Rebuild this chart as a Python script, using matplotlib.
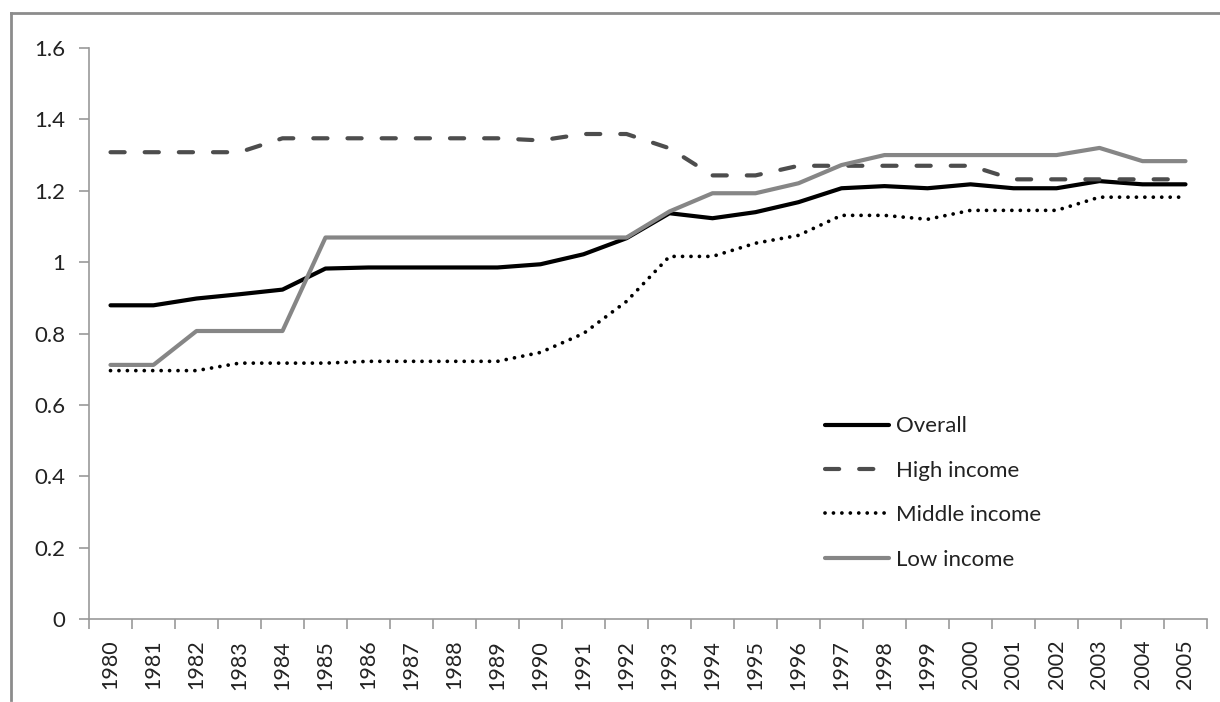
import matplotlib
matplotlib.use("Agg")
import matplotlib.pyplot as plt
from matplotlib.lines import Line2D

plt.rcParams['font.family'] = ['Lato', 'DejaVu Sans']

years = [str(y) for y in range(1980, 2006)]
overall = [0.879, 0.879, 0.898, 0.910, 0.923, 0.982, 0.985, 0.985, 0.985, 0.985,
           0.994, 1.022, 1.067, 1.137, 1.123, 1.140, 1.168, 1.207, 1.213, 1.207,
           1.218, 1.207, 1.207, 1.227, 1.218, 1.218]
high_income = [1.308, 1.308, 1.308, 1.308, 1.347, 1.347, 1.347, 1.347, 1.347, 1.347,
               1.341, 1.359, 1.359, 1.319, 1.243, 1.243, 1.270, 1.270, 1.270, 1.270,
               1.270, 1.232, 1.232, 1.232, 1.232, 1.232]
middle_income = [0.696, 0.696, 0.696, 0.717, 0.717, 0.717, 0.722, 0.722, 0.722, 0.722,
                 0.747, 0.800, 0.890, 1.016, 1.016, 1.053, 1.075, 1.131, 1.131, 1.120,
                 1.145, 1.145, 1.145, 1.182, 1.182, 1.182]
low_income = [0.712, 0.712, 0.807, 0.807, 0.807, 1.069, 1.069, 1.069, 1.069, 1.069,
              1.069, 1.069, 1.069, 1.142, 1.193, 1.193, 1.221, 1.272, 1.300, 1.300,
              1.300, 1.300, 1.300, 1.320, 1.283, 1.283]
yticks = [0, 0.2, 0.4, 0.6, 0.8, 1.0, 1.2, 1.4, 1.6]
ytick_labels = ['0', '0.2', '0.4', '0.6', '0.8', '1', '1.2', '1.4', '1.6']

W, H = 1220, 702
fig = plt.figure(figsize=(W / 100, H / 100), dpi=100)
ax = fig.add_axes([89 / W, 1 - 619 / H, (1207 - 89) / W, (619 - 48) / H])

x = list(range(len(years)))
ax.plot(x, overall, color='black', lw=3, solid_capstyle='round', label='Overall')
ax.plot(x, high_income, color='#4d4d4d', lw=3, dashes=(3.4, 4.8), dash_capstyle='round', label='High income')
ax.plot(x, middle_income, color='black', lw=2.7, dashes=(0.01, 2.24), dash_capstyle='round', label='Middle income')
ax.plot(x, low_income, color='#868686', lw=3, solid_capstyle='round', label='Low income')

ax.set_xlim(-0.5, len(years) - 0.5)
ax.set_ylim(0, 1.6)
ax.set_yticks(yticks)
ax.set_yticklabels(ytick_labels)
ax.set_xticks(x)
ax.set_xticklabels(years, rotation=90)
ax.set_xticks([i - 0.5 for i in range(len(years) + 1)], minor=True)
ax.tick_params(axis='x', which='major', length=0, pad=15, labelsize=15.5, labelcolor='#222222')
ax.tick_params(axis='x', which='minor', length=7, color='#999999', width=1.2, direction='out')
ax.tick_params(axis='y', length=7, color='#999999', width=1.2, pad=10, labelsize=16, labelcolor='#222222')

for s in ['top', 'right']:
    ax.spines[s].set_visible(False)
for s in ['left', 'bottom']:
    ax.spines[s].set_color('#999999')
    ax.spines[s].set_linewidth(1.2)

leg = ax.legend(loc='upper left', bbox_to_anchor=(0.64, 0.39), frameon=False,
                fontsize=16, handlelength=2.9, handletextpad=0.3, labelspacing=1.1,
                labelcolor='#222222')

# outer chart frame
fig.add_artist(Line2D([11 / W, 1.0], [1 - 13 / H, 1 - 13 / H], color='#8c8c8c', lw=2,
                      transform=fig.transFigure))
fig.add_artist(Line2D([11 / W, 11 / W], [1 - 13 / H, 1 - 700 / H], color='#8c8c8c', lw=2,
                      transform=fig.transFigure))

fig.savefig('out.png', dpi=100)
